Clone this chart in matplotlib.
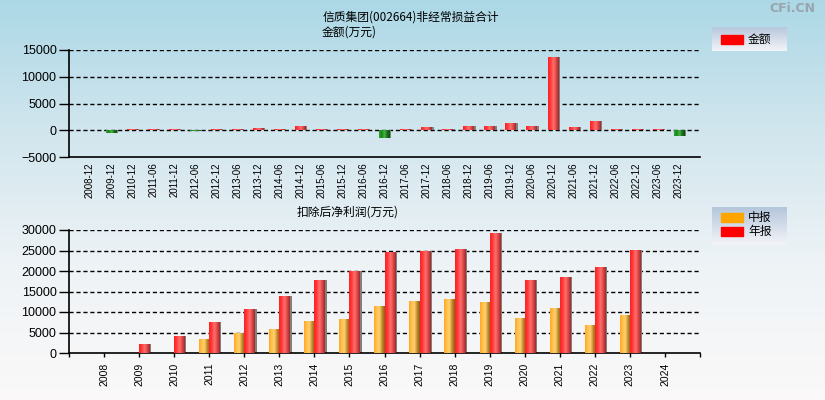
import numpy as np
import matplotlib.pyplot as plt
from matplotlib.colors import LinearSegmentedColormap
from matplotlib.patches import Rectangle

plt.rcParams['font.family'] = ['Noto Sans CJK SC', 'DejaVu Sans']

# non-recurring gains/losses (万元)
periods = ['2008-12', '2009-12', '2010-12', '2011-06', '2011-12', '2012-06', '2012-12',
           '2013-06', '2013-12', '2014-06', '2014-12', '2015-06', '2015-12', '2016-06',
           '2016-12', '2017-06', '2017-12', '2018-06', '2018-12', '2019-06', '2019-12',
           '2020-06', '2020-12', '2021-06', '2021-12', '2022-06', '2022-12', '2023-06',
           '2023-12']
amounts = [0, -550, 200, 200, 200, -150, 150, 150, 450, 150, 800, 150, 150, 150,
           -1500, 150, 560, 150, 750, 750, 1310, 750, 13700, 560, 1690, 150, 150, 150,
           -1000]

# net profit after deduction (万元)
years = ['2008', '2009', '2010', '2011', '2012', '2013', '2014', '2015', '2016',
         '2017', '2018', '2019', '2020', '2021', '2022', '2023', '2024']
interim = [0, 0, 0, 3500, 4880, 5930, 7880, 8370, 11540, 12760, 13250, 12520,
           8620, 11060, 6910, 9350, 0]
annual = [0, 2280, 4230, 7640, 10810, 13980, 17890, 20080, 24710, 24960, 25450,
          29350, 17890, 18620, 21060, 25200, 0]

W, H = 825, 400
red_cm = LinearSegmentedColormap.from_list('r', ['#ff2020', '#ff3a3a', '#ff7070', '#e04848', '#a02828'])
org_cm = LinearSegmentedColormap.from_list('o', ['#ffa820', '#ffc050', '#ffd070', '#c08a2a', '#8a6018'])
grn_cm = LinearSegmentedColormap.from_list('g', ['#30a030', '#108a10', '#50b050', '#187018', '#0c500c'])


def px(x0, y0, x1, y1):
    return [x0 / W, 1 - y1 / H, (x1 - x0) / W, (y1 - y0) / H]


def shade(ax, bars, cmaps):
    grad = np.linspace(0, 1, 64).reshape(1, -1)
    for b, cm in zip(bars, cmaps):
        h = b.get_height()
        if h == 0:
            continue
        x, y, w = b.get_x(), b.get_y(), b.get_width()
        im = ax.imshow(grad, cmap=cm, aspect='auto', interpolation='bilinear',
                       extent=[x, x + w, y, y + h], zorder=3)
        im.set_clip_path(b)


def style(ax, xsize, xlen):
    for s in ['top', 'right']:
        ax.spines[s].set_visible(False)
    ax.spines['left'].set_linewidth(1.2)
    ax.spines['bottom'].set_linewidth(1.2)
    ax.set_facecolor('none')
    ax.tick_params(axis='y', direction='out', length=7, width=1, colors='black', pad=2)
    ax.tick_params(axis='x', direction='out', length=xlen, width=1, colors='black', pad=4)
    for lab in ax.get_yticklabels():
        lab.set_family('Liberation Sans')
        lab.set_fontsize(9)
    for lab in ax.get_xticklabels():
        lab.set_family('Liberation Sans')
        lab.set_fontsize(xsize)
        lab.set_rotation(90)


fig = plt.figure(figsize=(W / 100, H / 100), dpi=100)

bg = fig.add_axes([0, 0, 1, 1], zorder=-10)
bg.imshow(np.linspace(0, 1, 256).reshape(-1, 1), aspect='auto', extent=[0, 1, 0, 1],
          cmap=LinearSegmentedColormap.from_list('bg', ['#acd8e6', '#d2e6ee', '#eef3f6', '#fbf9f9']))
bg.axis('off')

# ---- top chart ----
ax1 = fig.add_axes(px(69, 50, 700, 157))
x1 = np.arange(len(periods))
vals = np.array(amounts, dtype=float)
ax1.bar(x1 + 0.08, vals, 0.5, color='#808080', zorder=2)
bars1 = ax1.bar(x1, vals, 0.5, color='none', zorder=2.5)
shade(ax1, bars1, [red_cm if v >= 0 else grn_cm for v in vals])
ax1.set_xlim(-1, len(periods))
ax1.set_ylim(-5000, 15000)
ax1.set_yticks([-5000, 0, 5000, 10000, 15000])
ax1.set_xticks(x1)
ax1.set_xticklabels(periods)
for yv in [0, 5000, 10000, 15000]:
    ax1.axhline(yv, color='black', ls=(0, (3, 2)), lw=1, zorder=1)
style(ax1, 7, 0)

# ---- bottom chart ----
ax2 = fig.add_axes(px(69, 230, 700, 353))
x2 = np.arange(len(years))
bw = 0.29
ax2.bar(x2 + bw / 2 + 0.06, annual, bw, color='#808080', zorder=2)
bars_i = ax2.bar(x2 - bw / 2, interim, bw, color='none', zorder=2.5)
bars_a = ax2.bar(x2 + bw / 2, annual, bw, color='none', zorder=2.5)
shade(ax2, bars_i, [org_cm] * len(years))
shade(ax2, bars_a, [red_cm] * len(years))
ax2.set_xlim(-1, len(years))
ax2.set_ylim(0, 30000)
ax2.set_yticks(range(0, 30001, 5000))
ax2.set_xticks(np.arange(-1, len(years) + 1))
ax2.set_xticklabels([''] + years + [''])
for yv in range(5000, 30001, 5000):
    ax2.axhline(yv, color='black', ls=(0, (3, 2)), lw=1, zorder=1)
style(ax2, 7.5, 3)

# ---- titles ----
fig.text(323 / W, 1 - 17 / H, '信质集团(002664)非经常损益合计', fontsize=8.5, va='center', ha='left')
fig.text(322 / W, 1 - 32 / H, '金额(万元)', fontsize=8.5, va='center', ha='left')
fig.text(297 / W, 1 - 212 / H, '扣除后净利润(万元)', fontsize=8.5, va='center', ha='left')
fig.text(792 / W, 1 - 9 / H, 'CFi.CN', fontsize=9, fontweight='bold', color='#98a4ae',
         family='DejaVu Sans', ha='center', va='center')


# ---- legends ----
def legend_box(rect, items):
    lax = fig.add_axes(px(*rect), zorder=5)
    lax.imshow(np.linspace(0, 1, 64).reshape(-1, 1), aspect='auto', extent=[0, 1, 0, 1],
               cmap=LinearSegmentedColormap.from_list('lg', ['#b4c6dc', '#f4f4f8']))
    lax.set_xlim(0, 1)
    lax.set_ylim(0, 1)
    lax.axis('off')
    x0, y0, x1_, y1_ = rect
    for label, color, yc in items:
        fig.add_artist(Rectangle(((x0 + 9) / W, 1 - (yc + 4.5) / H), 22 / W, 9 / H,
                                 transform=fig.transFigure, color=color, zorder=6))
        fig.text((x0 + 36) / W, 1 - yc / H, label, fontsize=8.5, va='center', ha='left', zorder=7)


legend_box((712, 27, 787, 51), [('金额', '#ff0000', 39)])
legend_box((712, 207, 787, 245), [('中报', '#ffa500', 217.5), ('年报', '#ff0000', 231.5)])

fig.savefig('out.png', dpi=100)
